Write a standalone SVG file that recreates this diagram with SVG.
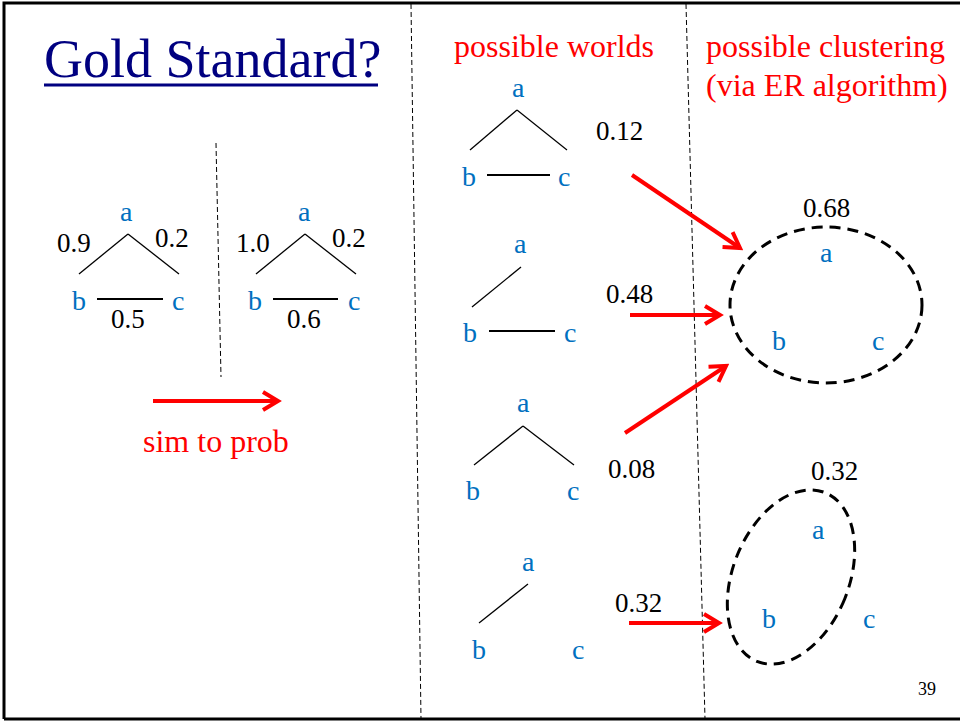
<svg xmlns="http://www.w3.org/2000/svg" width="960" height="723" viewBox="0 0 960 723" font-family="'Liberation Serif', 'Times New Roman', serif">
<style>
text{font-family:"Liberation Serif","Times New Roman",serif}
.t{fill:#000080;font-size:54px;font-family:"Liberation Serif",serif}
.red{fill:#FF0000;font-size:32px;font-family:"Liberation Serif",serif}
.n{fill:#0070C0;font-size:28px;font-family:"Liberation Serif",serif}
.v{fill:#000;font-size:27px;font-family:"Liberation Serif",serif}
.pg{fill:#000;font-size:18px;font-family:"Liberation Serif",serif}
.e{stroke:#000;stroke-width:1.3;fill:none}
.eb{stroke:#000;stroke-width:2.2;fill:none}
.div{stroke:#000;stroke-width:1;stroke-dasharray:5 3;fill:none}
.arr{stroke:#FF0000;stroke-width:4;fill:none;marker-end:url(#ah)}
.cl{stroke:#000;stroke-width:3;stroke-dasharray:11 7;fill:none}
</style>
<defs>
<marker id="ah" markerUnits="userSpaceOnUse" viewBox="-20 -12 24 24" markerWidth="24" markerHeight="24" refX="0" refY="0" orient="auto">
<path d="M-15,-9 L0,0 L-15,9" stroke="#FF0000" stroke-width="4" fill="none"/>
</marker>
</defs>
<rect x="0" y="0" width="960" height="723" fill="#fff"/>
<path d="M4,719 L4,3 L962,3 M4,719 L962,719" stroke="#000" stroke-width="3" fill="none"/>
<g id="dividers">
<line class="div" x1="411" y1="4" x2="421" y2="719"/>
<line class="div" x1="686" y1="4" x2="705" y2="719"/>
<line class="div" x1="216" y1="143" x2="221" y2="377"/>
</g>
<g id="title">
<text class="t" x="44" y="77">Gold Standard?</text>
<rect x="44" y="83.5" width="334" height="3" fill="#000080"/>
</g>
<g id="headers">
<text class="red" x="454" y="57">possible worlds</text>
<text class="red" x="706" y="57">possible clustering</text>
<text class="red" x="706" y="96">(via ER algorithm)</text>
<text class="red" x="143" y="452">sim to prob</text>
</g>
<g id="sim-graph">
<line class="e" x1="79" y1="274" x2="128" y2="234"/>
<line class="e" x1="128" y1="234" x2="179" y2="274"/>
<line class="eb" x1="97" y1="299" x2="163" y2="299"/>
<text class="n" x="120" y="221">a</text>
<text class="n" x="72" y="310">b</text>
<text class="n" x="172" y="310">c</text>
<text class="v" x="57" y="252">0.9</text>
<text class="v" x="155" y="247">0.2</text>
<text class="v" x="111" y="328">0.5</text>
</g>
<g id="prob-graph">
<line class="e" x1="256" y1="274" x2="305" y2="234"/>
<line class="e" x1="305" y1="234" x2="356" y2="274"/>
<line class="eb" x1="273" y1="299" x2="338" y2="299"/>
<text class="n" x="298" y="221">a</text>
<text class="n" x="248" y="310">b</text>
<text class="n" x="348" y="310">c</text>
<text class="v" x="236" y="252">1.0</text>
<text class="v" x="332" y="247">0.2</text>
<text class="v" x="287" y="328">0.6</text>
</g>
<g id="world1">
<line class="e" x1="470" y1="150" x2="517" y2="110"/>
<line class="e" x1="517" y1="110" x2="567" y2="150"/>
<line class="eb" x1="487" y1="175" x2="550" y2="175"/>
<text class="n" x="512" y="97">a</text>
<text class="n" x="462" y="186">b</text>
<text class="n" x="558" y="186">c</text>
<text class="v" x="596" y="140">0.12</text>
</g>
<g id="world2">
<line class="e" x1="472" y1="307" x2="521" y2="267"/>
<line class="eb" x1="489" y1="331" x2="555" y2="331"/>
<text class="n" x="514" y="253">a</text>
<text class="n" x="463" y="342">b</text>
<text class="n" x="564" y="342">c</text>
<text class="v" x="606" y="303">0.48</text>
</g>
<g id="world3">
<line class="e" x1="474" y1="465" x2="523" y2="426"/>
<line class="e" x1="523" y1="426" x2="574" y2="465"/>
<text class="n" x="517" y="412">a</text>
<text class="n" x="466" y="500">b</text>
<text class="n" x="567" y="500">c</text>
<text class="v" x="608" y="478">0.08</text>
</g>
<g id="world4">
<line class="e" x1="479" y1="623" x2="528" y2="584"/>
<text class="n" x="522" y="571">a</text>
<text class="n" x="472" y="659">b</text>
<text class="n" x="572" y="659">c</text>
<text class="v" x="615" y="612">0.32</text>
</g>
<g id="cluster1">
<ellipse class="cl" cx="826" cy="305" rx="96" ry="78"/>
<text class="n" x="820" y="262">a</text>
<text class="n" x="772" y="350">b</text>
<text class="n" x="872" y="350">c</text>
<text class="v" x="803" y="217">0.68</text>
</g>
<g id="cluster2">
<ellipse class="cl" cx="791" cy="577" rx="58" ry="91" transform="rotate(22 791 577)"/>
<text class="n" x="812" y="539">a</text>
<text class="n" x="762" y="628">b</text>
<text class="n" x="863" y="628">c</text>
<text class="v" x="811" y="480">0.32</text>
</g>
<g id="connectors">
<line class="arr" x1="153" y1="401" x2="278" y2="401"/>
<line class="arr" x1="632" y1="175" x2="740" y2="248"/>
<line class="arr" x1="630" y1="315" x2="720" y2="315"/>
<line class="arr" x1="625" y1="433" x2="726" y2="366"/>
<line class="arr" x1="629" y1="623" x2="719" y2="623"/>
</g>
<text class="pg" x="918" y="695">39</text>
</svg>
